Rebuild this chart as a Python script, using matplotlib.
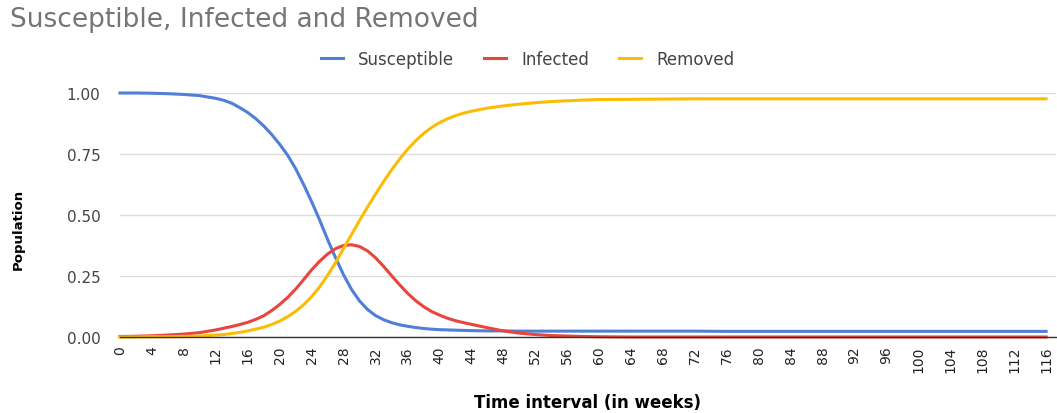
import matplotlib.pyplot as plt

# weeks and read-off population fractions
weeks = [0, 2, 4, 6, 8, 10, 12, 13, 14, 15, 16, 17, 18, 19, 20, 21, 22, 23, 24, 25,
         26, 27, 28, 29, 30, 31, 32, 33, 34, 35, 36, 37, 38, 39, 40, 41, 42, 43, 44,
         46, 48, 50, 52, 54, 56, 58, 60, 64, 68, 72, 76, 80, 84, 88, 92, 96, 100,
         104, 108, 112, 116]
susceptible = [1.000, 1.000, 0.999, 0.997, 0.994, 0.989, 0.978, 0.970, 0.958, 0.940,
               0.920, 0.895, 0.865, 0.830, 0.790, 0.745, 0.690, 0.625, 0.555, 0.480,
               0.400, 0.325, 0.255, 0.195, 0.148, 0.113, 0.088, 0.071, 0.059, 0.050,
               0.044, 0.039, 0.035, 0.032, 0.030, 0.029, 0.028, 0.027, 0.026, 0.025,
               0.025, 0.024, 0.024, 0.024, 0.024, 0.024, 0.024, 0.024, 0.024, 0.024,
               0.023, 0.023, 0.023, 0.023, 0.023, 0.023, 0.023, 0.023, 0.023, 0.023,
               0.023]
infected = [0.002, 0.003, 0.005, 0.008, 0.012, 0.018, 0.029, 0.036, 0.043, 0.051,
            0.060, 0.072, 0.087, 0.108, 0.133, 0.162, 0.196, 0.235, 0.275, 0.310,
            0.340, 0.362, 0.375, 0.378, 0.371, 0.353, 0.325, 0.290, 0.252, 0.215,
            0.180, 0.150, 0.125, 0.105, 0.090, 0.077, 0.067, 0.059, 0.052, 0.038,
            0.025, 0.016, 0.010, 0.006, 0.004, 0.002, 0.001, 0.000, 0.000, 0.000,
            0.000, 0.000, 0.000, 0.000, 0.000, 0.000, 0.000, 0.000, 0.000, 0.000,
            0.000]
removed = [0.000, 0.000, 0.001, 0.001, 0.002, 0.004, 0.008, 0.010, 0.014, 0.019,
           0.025, 0.032, 0.040, 0.051, 0.065, 0.083, 0.105, 0.132, 0.165, 0.205,
           0.252, 0.305, 0.362, 0.420, 0.477, 0.532, 0.585, 0.636, 0.684, 0.728,
           0.768, 0.803, 0.833, 0.858, 0.878, 0.894, 0.907, 0.917, 0.925, 0.938,
           0.947, 0.954, 0.960, 0.965, 0.968, 0.971, 0.973, 0.974, 0.975, 0.976,
           0.976, 0.976, 0.976, 0.976, 0.976, 0.976, 0.976, 0.976, 0.976, 0.976,
           0.976]

fig = plt.figure(figsize=(10.57, 4.14), dpi=100)
ax = fig.add_axes([0.1135, 0.1836, 0.886, 0.5894])

ax.plot(weeks, susceptible, color='#4f7fd6', lw=2.2, label='Susceptible', clip_on=False)
ax.plot(weeks, infected, color='#e8453c', lw=2.2, label='Infected', clip_on=False)
ax.plot(weeks, removed, color='#fbbc04', lw=2.2, label='Removed', clip_on=False)

ax.set_xlim(0, 117.3)
ax.set_ylim(0, 1.0)
ax.set_xticks(range(0, 117, 4))
ax.set_xticklabels([str(w) for w in range(0, 117, 4)], rotation=90, fontsize=10, color='#222222')
ax.set_yticks([0, 0.25, 0.5, 0.75, 1.0])
ax.set_yticklabels(['0.00', '0.25', '0.50', '0.75', '1.00'], fontsize=11, color='#444444')
ax.tick_params(length=0, pad=6)
ax.tick_params(axis='y', pad=14)
ax.grid(axis='y', color='#dcdcdc', lw=1)
ax.set_axisbelow(True)
for s in ['top', 'right', 'left']:
    ax.spines[s].set_visible(False)
ax.spines['bottom'].set_color('#333333')
ax.spines['bottom'].set_linewidth(1)

# axis titles placed on the figure
fig.text(0.556, 0.027, 'Time interval (in weeks)', fontsize=12, fontweight='bold',
         ha='center', va='center')
fig.text(0.017, 0.445, 'Population', fontsize=9.5, fontweight='bold', rotation=90,
         ha='center', va='center')

fig.text(0.009, 0.952, 'Susceptible, Infected and Removed', fontsize=19, color='#757575',
         va='center', ha='left')
fig.legend(loc='center', bbox_to_anchor=(0.499, 0.855), ncol=3, frameon=False,
           fontsize=12, handlelength=1.32, columnspacing=1.8, handletextpad=0.9,
           labelcolor='#444444')

fig.savefig('out.png', dpi=100)
